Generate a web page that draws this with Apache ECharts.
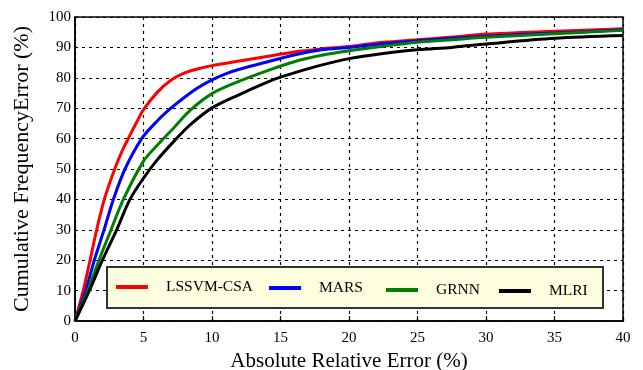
<!DOCTYPE html>
<html><head><meta charset="utf-8">
<script src="https://cdn.jsdelivr.net/npm/echarts@6/dist/echarts.min.js"></script>
<style>html,body{margin:0;padding:0;background:#fff}#c{width:643px;height:370px}</style>
</head><body><div id="c"></div>
<script>
const seriesNames = ['LSSVM-CSA', 'MARS', 'GRNN', 'MLRI'];
const xLSSVM = [0, 0.6, 1.1, 1.58, 2.14, 2.9, 3.5, 4, 4.5, 5, 6, 7, 8, 9, 10, 12, 14, 16, 18, 20, 22.5, 25, 27.5, 30, 35, 40];
const yLSSVM = [0, 10, 20, 30, 40, 50, 56.5, 61, 65.4, 69.5, 75.2, 79.2, 81.6, 83, 84, 85.5, 87, 88.5, 89.5, 90.3, 91.7, 92.5, 93.4, 94.4, 95.3, 96.1];
const xMARS = [0, 0.78, 1.41, 2.12, 2.8, 3.65, 4.87, 6, 7, 8, 9, 10, 11, 12, 14, 16, 18, 20, 22.5, 25, 27.5, 30, 35, 40];
const yMARS = [0, 10, 20, 30, 40, 50, 60, 65.8, 70, 73.6, 76.8, 79.3, 81.3, 82.8, 85.2, 87.5, 89.2, 90, 91.2, 92.2, 93, 93.7, 94.7, 95.8];
const xGRNN = [0, 0.93, 1.75, 2.63, 3.53, 5, 6, 7.2, 8.4, 10, 12, 14, 16, 18, 20, 22.5, 25, 27.5, 30, 35, 40];
const yGRNN = [0, 10, 20, 30, 40, 52.6, 57.8, 63.5, 69.3, 74.8, 78.9, 82.3, 85.3, 87.4, 88.9, 90.4, 91.7, 92.5, 93.3, 94.5, 95.6];
const xMLRI = [0, 1.05, 2.0, 3.04, 4.01, 5, 6, 7.3, 8.4, 10, 12, 14, 15, 17.5, 20, 22.5, 25, 27.5, 30, 35, 40];
const yMLRI = [0, 10, 20, 30, 40, 47, 53, 59.5, 64.5, 70.1, 74.5, 78.5, 80.2, 83.6, 86.3, 88, 89.2, 90, 91.1, 93, 93.9];
const xTicks = ['0','5','10','15','20','25','30','35','40'];
const yTicks = ['0','10','20','30','40','50','60','70','80','90','100'];
const xTitle = 'Absolute Relative Error (%)';
const yTitle = 'Cumulative FrequencyError (%)';

const colors = ['#ff0000', '#0000ff', '#008000', '#000000'];
const xs = [xLSSVM, xMARS, xGRNN, xMLRI];
const ys = [yLSSVM, yMARS, yGRNN, yMLRI];
const serif = 'Liberation Serif';

const chart = echarts.init(document.getElementById('c'), null, {renderer: 'canvas'});
const legendLeft = [116, 269, 386, 499];
const legendTop = [279, 280, 282, 283];
const option = {
  animation: false,
  grid: {left: 75, right: 20, top: 17, bottom: 49, show: true, borderColor: '#000', borderWidth: 1.5, backgroundColor: 'transparent', outerBoundsMode: 'none', containLabel: false},
  xAxis: {
    type: 'value', min: 0, max: 40, interval: 5,
    name: xTitle, nameLocation: 'middle', nameGap: 25,
    nameTextStyle: {fontFamily: serif, fontSize: 21, color: '#000'},
    axisLine: {show: true, lineStyle: {color: '#000', width: 1.5}},
    axisTick: {show: true, inside: true, length: 5, lineStyle: {color: '#000', width: 1.2}},
    axisLabel: {fontFamily: serif, fontSize: 15, color: '#000', margin: 10, formatter: v => xTicks[Math.round(v / 5)]},
    splitLine: {show: true, lineStyle: {color: '#000', type: [3, 4], width: 1.2}}
  },
  yAxis: {
    type: 'value', min: 0, max: 100, interval: 10,
    name: yTitle, nameLocation: 'middle', nameGap: 42,
    nameTextStyle: {fontFamily: serif, fontSize: 22, color: '#000'},
    axisLine: {show: true, lineStyle: {color: '#000', width: 1.5}},
    axisTick: {show: false},
    axisLabel: {fontFamily: serif, fontSize: 15, color: '#000', margin: 4, formatter: v => yTicks[Math.round(v / 10)]},
    splitLine: {show: true, lineStyle: {color: '#000', type: [3, 4], width: 1.2}}
  },
  graphic: [{
    type: 'rect', z: 3, shape: {x: 107, y: 267, width: 496, height: 41},
    style: {fill: '#FDFDE0', stroke: '#333', lineWidth: 2}
  }],
  legend: seriesNames.map((n, i) => ({
    data: [n], left: legendLeft[i], top: legendTop[i], z: 5, padding: 0,
    icon: 'rect', itemWidth: 32, itemHeight: 4,
    textStyle: {fontFamily: serif, fontSize: 15.5, color: '#000', padding: [0, 0, 0, 13]}
  })),
  series: seriesNames.map((n, i) => ({
    name: n, type: 'line', smooth: 0.3, showSymbol: false, symbol: 'none', z: 2,
    lineStyle: {color: colors[i], width: 3},
    itemStyle: {color: colors[i]},
    data: xs[i].map((x, j) => [x, ys[i][j]])
  }))
};
chart.setOption(option);
</script></body></html>
